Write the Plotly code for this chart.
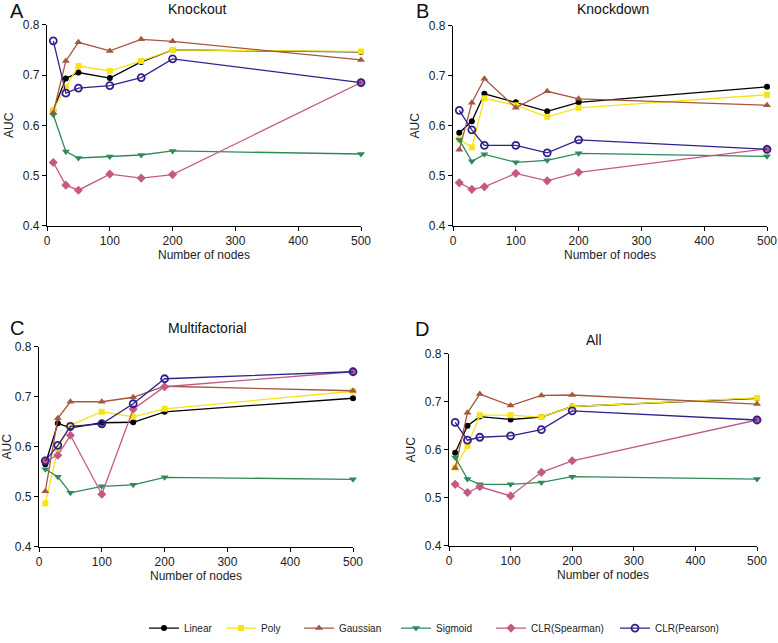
import plotly.graph_objects as go

W, H = 778, 643

nodes = [10, 30, 50, 100, 150, 200, 500]
series_names = ["Linear", "Poly", "Gaussian", "Sigmoid", "CLR(Spearman)", "CLR(Pearson)"]

# Panel A: Knockout
ko_linear = [0.630, 0.693, 0.705, 0.694, 0.726, 0.750, 0.746]
ko_poly = [0.630, 0.676, 0.718, 0.708, 0.728, 0.750, 0.747]
ko_gaussian = [0.625, 0.728, 0.765, 0.748, 0.771, 0.767, 0.730]
ko_sigmoid = [0.621, 0.548, 0.535, 0.538, 0.541, 0.549, 0.543]
ko_spearman = [0.526, 0.481, 0.471, 0.503, 0.495, 0.502, 0.685]
ko_pearson = [0.768, 0.664, 0.674, 0.679, 0.695, 0.732, 0.685]

# Panel B: Knockdown
kd_linear = [0.586, 0.609, 0.664, 0.647, 0.629, 0.647, 0.678]
kd_poly = [0.573, 0.557, 0.655, 0.641, 0.618, 0.636, 0.662]
kd_gaussian = [0.552, 0.646, 0.694, 0.636, 0.669, 0.654, 0.641]
kd_sigmoid = [0.572, 0.529, 0.543, 0.527, 0.531, 0.545, 0.539]
kd_spearman = [0.486, 0.473, 0.478, 0.505, 0.490, 0.507, 0.554]
kd_pearson = [0.631, 0.592, 0.561, 0.561, 0.546, 0.572, 0.553]

# Panel C: Multifactorial
mf_linear = [0.565, 0.647, 0.638, 0.648, 0.649, 0.670, 0.697]
mf_poly = [0.487, 0.595, 0.643, 0.670, 0.660, 0.676, 0.711]
mf_gaussian = [0.511, 0.657, 0.690, 0.690, 0.699, 0.721, 0.712]
mf_sigmoid = [0.555, 0.540, 0.508, 0.521, 0.524, 0.539, 0.535]
mf_spearman = [0.572, 0.583, 0.623, 0.505, 0.675, 0.720, 0.750]
mf_pearson = [0.572, 0.603, 0.641, 0.646, 0.686, 0.736, 0.750]

# Panel D: All
al_linear = [0.594, 0.650, 0.669, 0.663, 0.668, 0.690, 0.707]
al_poly = [0.563, 0.608, 0.672, 0.672, 0.668, 0.690, 0.708]
al_gaussian = [0.562, 0.677, 0.716, 0.692, 0.713, 0.714, 0.695]
al_sigmoid = [0.584, 0.539, 0.528, 0.528, 0.532, 0.544, 0.539]
al_spearman = [0.528, 0.511, 0.523, 0.504, 0.553, 0.577, 0.662]
al_pearson = [0.657, 0.620, 0.626, 0.629, 0.642, 0.681, 0.662]

panel_titles = ["Knockout", "Knockdown", "Multifactorial", "All"]
panel_letters = ["A", "B", "C", "D"]
panels = [
    [ko_linear, ko_poly, ko_gaussian, ko_sigmoid, ko_spearman, ko_pearson],
    [kd_linear, kd_poly, kd_gaussian, kd_sigmoid, kd_spearman, kd_pearson],
    [mf_linear, mf_poly, mf_gaussian, mf_sigmoid, mf_spearman, mf_pearson],
    [al_linear, al_poly, al_gaussian, al_sigmoid, al_spearman, al_pearson],
]

colors = ["#000000", "#F7E31A", "#A5573F", "#2F8A58", "#C45A84", "#33208C"]
symbols = ["circle", "square", "triangle-up", "triangle-down", "diamond", "circle-open"]
sizes = [6, 6, 7, 7, 7, 7]

# plot-area boxes in page pixels: (x0, x1, ytop, ybottom)
boxes = [
    (47, 361, 25, 228),
    (453, 767, 26, 228),
    (39, 353, 350, 552),
    (449, 757, 357, 551),
]
title_pos = [(197, 9), (613, 9), (208, 331), (594, 343)]
letter_pos = [(17, 11), (422, 11), (17, 331), (422, 332)]
legend_text_x = [185, 262, 340, 437, 532, 656]
legend_y = 634

FONT = "Liberation Sans, Arial, sans-serif"


def px(x):
    return x / W


def py(y):
    return 1 - y / H


fig = go.Figure()
layout = dict(
    width=W, height=H,
    margin=dict(l=0, r=0, t=0, b=0),
    paper_bgcolor="white", plot_bgcolor="white",
    font=dict(family=FONT, color="#222222", size=12),
    showlegend=True,
)
for k in range(6):
    key = "legend" if k == 0 else f"legend{k+1}"
    layout[key] = dict(orientation="h", x=px(legend_text_x[k] - 41), y=py(legend_y), xanchor="left",
                       yanchor="middle", font=dict(size=10, family=FONT, color="#222222"),
                       itemwidth=30, bgcolor="rgba(0,0,0,0)", borderwidth=0)

annotations = []
for i, (vals, box) in enumerate(zip(panels, boxes)):
    x0, x1, yt, yb = box
    xa = "xaxis" if i == 0 else f"xaxis{i+1}"
    ya = "yaxis" if i == 0 else f"yaxis{i+1}"
    xref = "x" if i == 0 else f"x{i+1}"
    yref = "y" if i == 0 else f"y{i+1}"
    layout[xa] = dict(
        domain=[px(x0), px(x1)], anchor=yref, range=[0, 500],
        tickvals=[0, 100, 200, 300, 400, 500], showgrid=False, zeroline=False,
        showline=True, linecolor="black", linewidth=1.3, ticks="outside", ticklen=4,
        tickwidth=1.2, tickcolor="black", tickfont=dict(size=12, color="#222222"),
        title=dict(text="Number of nodes", font=dict(size=12, color="#222222"), standoff=3),
        automargin=False,
    )
    layout[ya] = dict(
        domain=[py(yb), py(yt)], anchor=xref, range=[0.4, 0.8],
        tickvals=[0.4, 0.5, 0.6, 0.7, 0.8], ticktext=["0.4", "0.5", "0.6", "0.7", "0.8"],
        showgrid=False, zeroline=False,
        showline=True, linecolor="black", linewidth=1.3, ticks="outside", ticklen=4,
        tickwidth=1.2, tickcolor="black", tickfont=dict(size=12, color="#222222"),
        title=dict(text="AUC", font=dict(size=12, color="#222222"), standoff=6),
        automargin=False,
    )
    for j, v in enumerate(vals):
        fig.add_trace(go.Scatter(
            x=nodes, y=v, mode="lines+markers", name=series_names[j],
            xaxis=xref, yaxis=yref, showlegend=(i == 0),
            legend=("legend" if j == 0 else f"legend{j+1}"),
            line=dict(color=colors[j], width=1.3),
            marker=dict(color=colors[j], symbol=symbols[j], size=sizes[j],
                        line=dict(color=colors[j], width=1.8 if j == 5 else 0)),
            cliponaxis=False,
        ))
    tx, ty = title_pos[i]
    annotations.append(dict(text=panel_titles[i], x=px(tx), y=py(ty), xref="paper", yref="paper",
                            xanchor="center", yanchor="middle", showarrow=False,
                            font=dict(size=14, family=FONT, color="#111111")))
    lx, ly = letter_pos[i]
    annotations.append(dict(text=panel_letters[i], x=px(lx), y=py(ly), xref="paper", yref="paper",
                            xanchor="center", yanchor="middle", showarrow=False,
                            font=dict(size=20, family=FONT, color="#111111")))

layout["annotations"] = annotations
fig.update_layout(**layout)
fig.write_html("out.html", config={"displayModeBar": False},
               post_script="document.body.style.margin='0px';")
